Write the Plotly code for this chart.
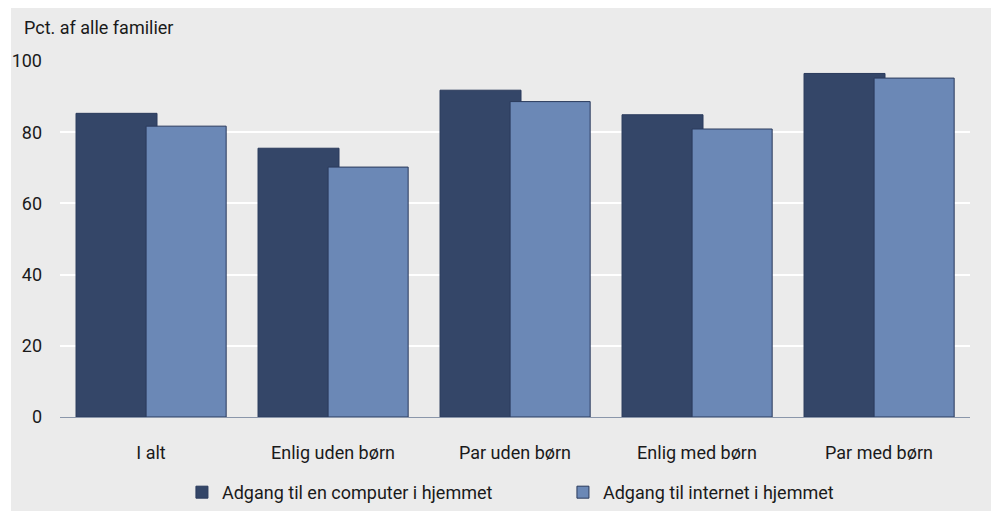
import plotly.graph_objects as go

categories = ["I alt", "Enlig uden børn", "Par uden børn", "Enlig med børn", "Par med børn"]
computer = [85.3, 75.5, 91.8, 84.9, 96.5]
internet = [81.7, 70.2, 88.6, 80.9, 95.2]
series_names = ["Adgang til en computer i hjemmet", "Adgang til internet i hjemmet"]
y_ticks = [0, 20, 40, 60, 80, 100]

FONT = "Roboto, Open Sans, sans-serif"
FS = 18
DARK = "#344668"
LIGHT = "#6b88b6"
OUTLINE = "#2a3a5c"

fig = go.Figure()
fig.add_trace(go.Bar(
    x=categories, y=computer, name=series_names[0],
    marker=dict(color=DARK, line=dict(color=OUTLINE, width=1)),
    width=0.445, offset=-0.412,
))
fig.add_trace(go.Bar(
    x=categories, y=internet, name=series_names[1],
    marker=dict(color=LIGHT, line=dict(color=OUTLINE, width=1)),
    width=0.44, offset=-0.027,
))

fig.add_shape(type="rect", xref="paper", yref="paper",
              x0=-0.0538, x1=1.0275, y0=-0.30, y1=1.150,
              fillcolor="#ebebeb", line=dict(width=0), layer="below")

fig.add_annotation(text="Pct. af alle familier", xref="paper", yref="paper",
                   x=-0.0418, y=1.095, xanchor="left", yanchor="middle",
                   showarrow=False, font=dict(family=FONT, size=FS, color="#1a1a1a"))

fig.update_layout(
    width=991, height=503,
    margin=dict(l=52, r=29, t=53, b=93.5, autoexpand=False),
    paper_bgcolor="white",
    plot_bgcolor="#dcdcdc",
    barmode="overlay",
    font=dict(family=FONT, size=FS, color="#1a1a1a"),
    showlegend=True,
    legend=dict(orientation="h", x=0.134, xanchor="left", y=-0.212, yanchor="middle",
                bgcolor="rgba(0,0,0,0)", font=dict(family=FONT, size=FS),
                entrywidth=336, entrywidthmode="pixels",
                traceorder="normal", itemclick=False),
    xaxis=dict(showgrid=False, showline=True, linecolor="#8a96aa", linewidth=1, automargin=False,
               ticks="", ticklabelstandoff=19, tickfont=dict(family=FONT, size=FS)),
    yaxis=dict(range=[0, 100], tickvals=y_ticks, showgrid=True, gridcolor="white", automargin=False,
               gridwidth=2, zeroline=False, showline=False, ticks="",
               ticklabelstandoff=17, tickfont=dict(family=FONT, size=FS)),
)

fig.write_html("out.html")
